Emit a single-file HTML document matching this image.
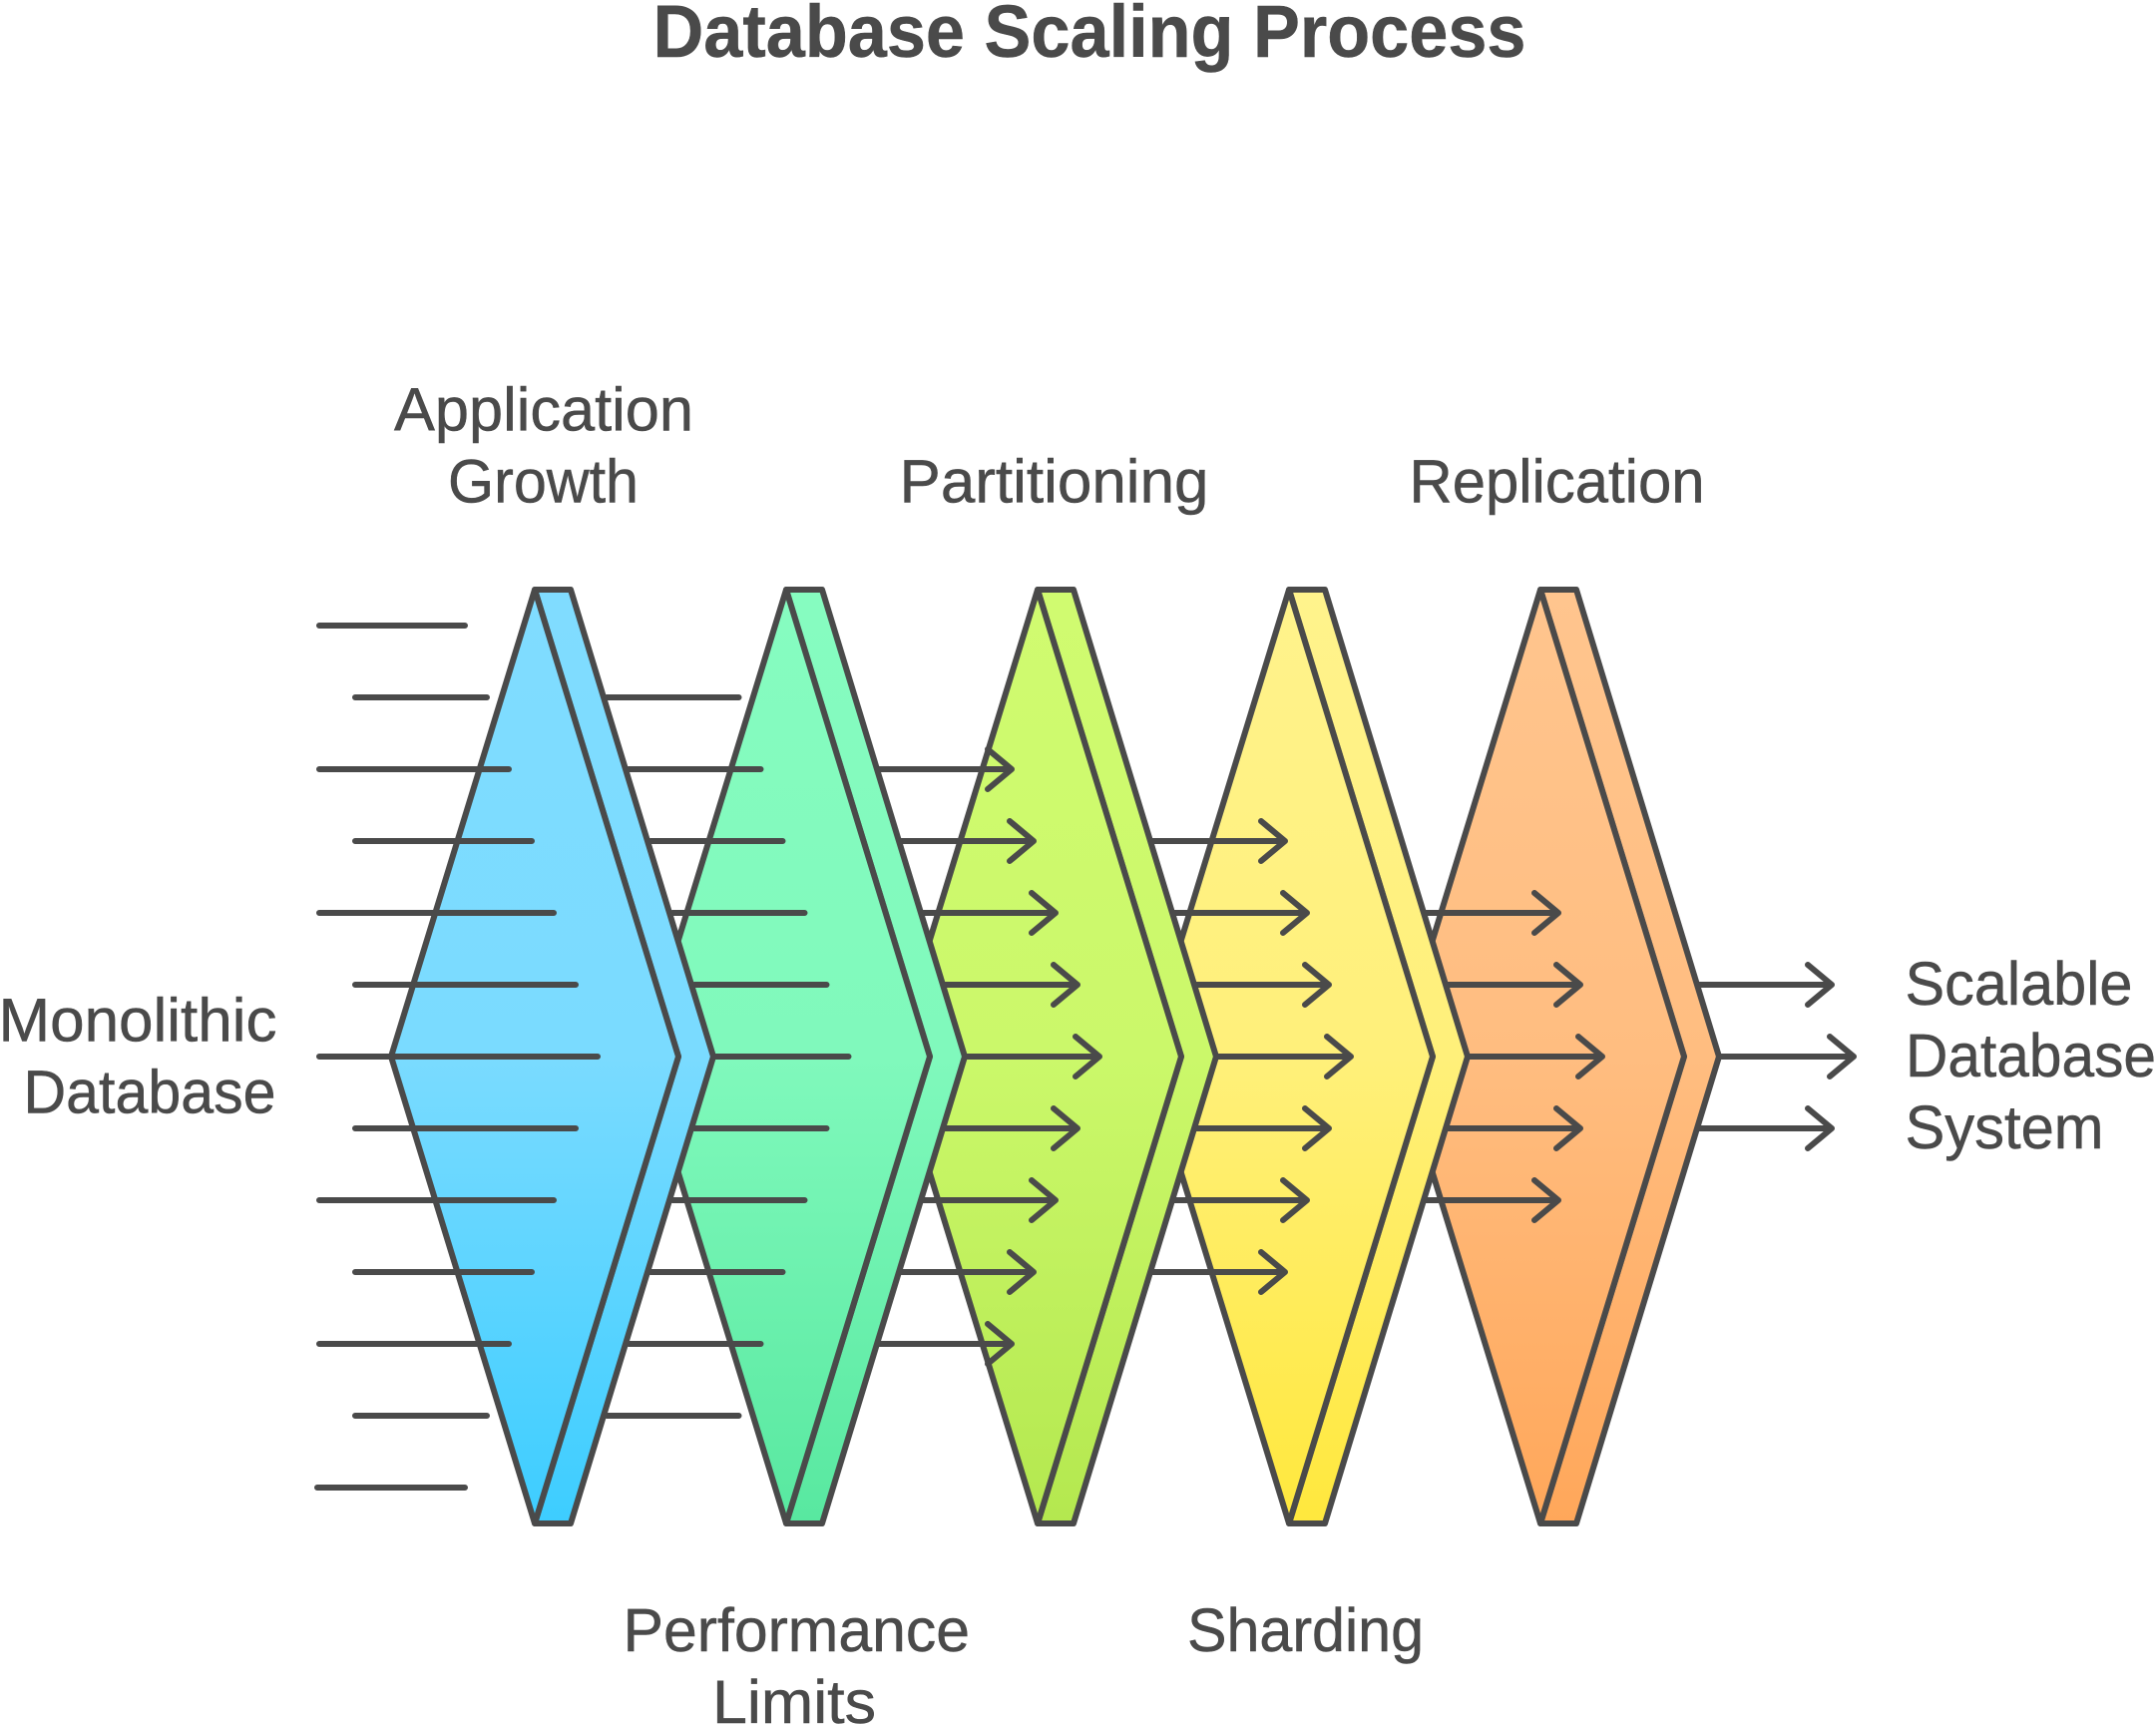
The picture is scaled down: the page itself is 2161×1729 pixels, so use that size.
<!DOCTYPE html>
<html><head><meta charset="utf-8"><style>html,body{margin:0;padding:0;background:#fff}svg{display:block}text{font-family:"Liberation Sans",sans-serif;fill:#4a4a4a;stroke:#4a4a4a;stroke-width:.5}</style></head><body>
<svg xmlns="http://www.w3.org/2000/svg" width="2161" height="1729" viewBox="0 0 2161 1729">
<defs>
<linearGradient id="g1" x1="0" y1="0" x2="0" y2="1"><stop offset="0" stop-color="#80dcff"/><stop offset=".5" stop-color="#7adbff"/><stop offset="1" stop-color="#3dcdff"/></linearGradient>
<linearGradient id="g2" x1="0" y1="0" x2="0" y2="1"><stop offset="0" stop-color="#86fcc0"/><stop offset=".5" stop-color="#80f9bc"/><stop offset="1" stop-color="#58e8a0"/></linearGradient>
<linearGradient id="g3" x1="0" y1="0" x2="0" y2="1"><stop offset="0" stop-color="#d0fb70"/><stop offset=".5" stop-color="#cbf86a"/><stop offset="1" stop-color="#b4e84f"/></linearGradient>
<linearGradient id="g4" x1="0" y1="0" x2="0" y2="1"><stop offset="0" stop-color="#fff38c"/><stop offset=".5" stop-color="#fff07a"/><stop offset="1" stop-color="#ffe83d"/></linearGradient>
<linearGradient id="g5" x1="0" y1="0" x2="0" y2="1"><stop offset="0" stop-color="#ffc58e"/><stop offset=".5" stop-color="#ffbd80"/><stop offset="1" stop-color="#ffa75a"/></linearGradient>
<g id="c" stroke="#4a4a4a" stroke-width="6" stroke-linejoin="round"><path d="M536 591H572L715 1059L572 1527H536L680 1059Z"/><path d="M536 591L680 1059L536 1527L392 1059Z"/></g>
</defs>
<text x="654.5" y="57" font-size="74" font-weight="bold" textLength="875" lengthAdjust="spacingAndGlyphs">Database Scaling Process</text>
<g fill="none" stroke="#4a4a4a" stroke-width="6" stroke-linecap="round" stroke-linejoin="round">
<path d="M1701 987H1836M1812 967L1836 987L1812 1007M1723 1059H1858M1834 1039L1858 1059L1834 1079M1701 1131H1836M1812 1111L1836 1131L1812 1151"/>
</g>
<use href="#c" x="1008" fill="url(#g5)"/>
<g fill="none" stroke="#4a4a4a" stroke-width="6" stroke-linecap="round" stroke-linejoin="round">
<path d="M1427 915H1562M1538 895L1562 915L1538 935M1449 987H1584M1560 967L1584 987L1560 1007M1471 1059H1606M1582 1039L1606 1059L1582 1079M1449 1131H1584M1560 1111L1584 1131L1560 1151M1427 1203H1562M1538 1183L1562 1203L1538 1223"/>
</g>
<use href="#c" x="756" fill="url(#g4)"/>
<g fill="none" stroke="#4a4a4a" stroke-width="6" stroke-linecap="round" stroke-linejoin="round">
<path d="M1153 843H1288M1264 823L1288 843L1264 863M1175 915H1310M1286 895L1310 915L1286 935M1197 987H1332M1308 967L1332 987L1308 1007M1219 1059H1354M1330 1039L1354 1059L1330 1079M1197 1131H1332M1308 1111L1332 1131L1308 1151M1175 1203H1310M1286 1183L1310 1203L1286 1223M1153 1275H1288M1264 1255L1288 1275L1264 1295"/>
</g>
<use href="#c" x="504" fill="url(#g3)"/>
<g fill="none" stroke="#4a4a4a" stroke-width="6" stroke-linecap="round" stroke-linejoin="round">
<path d="M879 771H1014M990 751L1014 771L990 791M901 843H1036M1012 823L1036 843L1012 863M923 915H1058M1034 895L1058 915L1034 935M945 987H1080M1056 967L1080 987L1056 1007M967 1059H1102M1078 1039L1102 1059L1078 1079M945 1131H1080M1056 1111L1080 1131L1056 1151M923 1203H1058M1034 1183L1058 1203L1034 1223M901 1275H1036M1012 1255L1036 1275L1012 1295M879 1347H1014M990 1327L1014 1347L990 1367"/>
</g>
<use href="#c" x="252" fill="url(#g2)"/>
<g fill="none" stroke="#4a4a4a" stroke-width="6" stroke-linecap="round">
<path d="M608 699H740.5M630 771H762.5M652 843H784.5M674 915H806.5M696 987H828.5M715 1059H850.5M696 1131H828.5M674 1203H806.5M652 1275H784.5M630 1347H762.5M608 1419H740.5"/>
</g>
<use href="#c" fill="url(#g1)"/>
<g fill="none" stroke="#4a4a4a" stroke-width="6" stroke-linecap="round">
<path d="M320 627H466M356 699H488M320 771H510M356 843H533M320 915H555M356 987H577M320 1059H599M356 1131H577M320 1203H555M356 1275H533M320 1347H510M356 1419H488M318 1491H466"/>
</g>
<g font-size="61">
<text x="395" y="431.5" textLength="300" lengthAdjust="spacingAndGlyphs">Application</text>
<text x="449" y="503.5" textLength="191" lengthAdjust="spacingAndGlyphs">Growth</text>
<text x="901.5" y="503.5" textLength="310" lengthAdjust="spacingAndGlyphs">Partitioning</text>
<text x="1412.5" y="503.5" textLength="296" lengthAdjust="spacingAndGlyphs">Replication</text>
<text x="-1.5" y="1043.5" textLength="279" lengthAdjust="spacingAndGlyphs">Monolithic</text>
<text x="23.5" y="1115.5" textLength="253" lengthAdjust="spacingAndGlyphs">Database</text>
<text x="1909.5" y="1007" textLength="228" lengthAdjust="spacingAndGlyphs">Scalable</text>
<text x="1910" y="1079" textLength="251" lengthAdjust="spacingAndGlyphs">Database</text>
<text x="1909.5" y="1151" textLength="199" lengthAdjust="spacingAndGlyphs">System</text>
<text x="624.5" y="1655" textLength="347.5" lengthAdjust="spacingAndGlyphs">Performance</text>
<text x="714" y="1727" textLength="164" lengthAdjust="spacingAndGlyphs">Limits</text>
<text x="1190" y="1655" textLength="237" lengthAdjust="spacingAndGlyphs">Sharding</text>
</g>
</svg>
</body></html>
